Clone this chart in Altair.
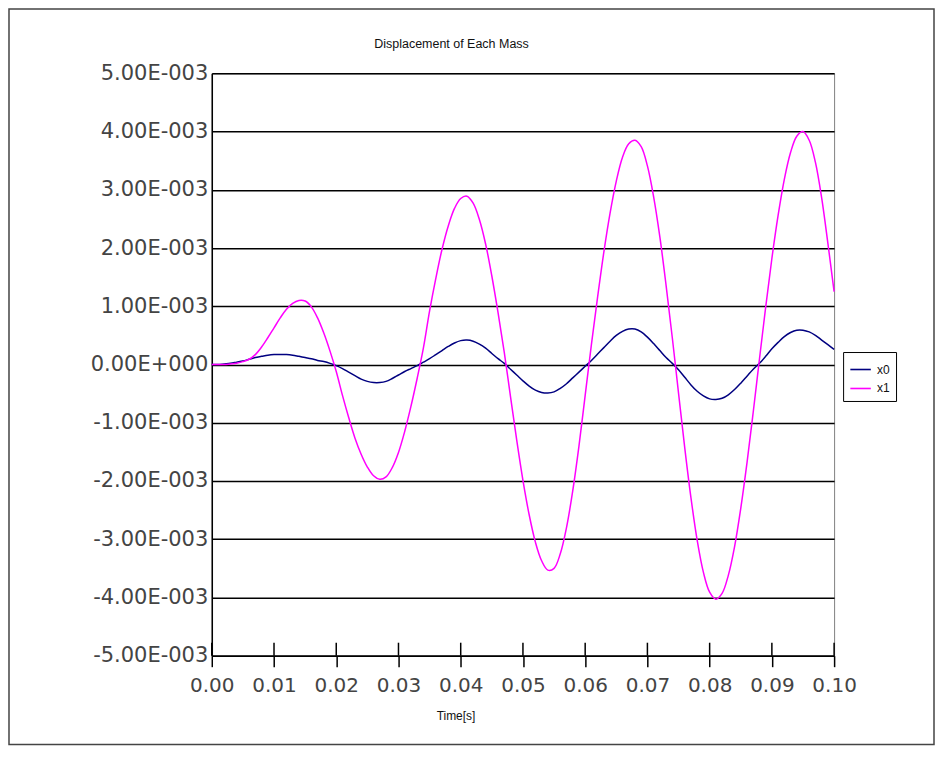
import altair as alt
import pandas as pd

# time samples [s]
time_s = [round(i * 0.001, 3) for i in range(101)]

# displacement of mass x0, in units of 1E-003
x0 = [0.00, 0.00, 0.01, 0.02, 0.04, 0.06, 0.09, 0.12, 0.14, 0.16,
      0.17, 0.17, 0.17, 0.16, 0.14, 0.12, 0.10, 0.07, 0.05, 0.02,
      -0.02, -0.07, -0.13, -0.19, -0.25, -0.29, -0.31, -0.31, -0.29, -0.24,
      -0.18, -0.12, -0.07, -0.02, 0.04, 0.10, 0.17, 0.24, 0.31, 0.37,
      0.41, 0.42, 0.40, 0.35, 0.28, 0.19, 0.10, 0.02, -0.08, -0.18,
      -0.28, -0.37, -0.44, -0.48, -0.49, -0.47, -0.41, -0.33, -0.23, -0.13,
      -0.03, 0.07, 0.18, 0.29, 0.40, 0.50, 0.57, 0.61, 0.61, 0.56,
      0.47, 0.36, 0.24, 0.12, 0.02, -0.09, -0.22, -0.35, -0.46, -0.54,
      -0.59, -0.60, -0.58, -0.52, -0.43, -0.32, -0.20, -0.08, 0.02, 0.14,
      0.27, 0.38, 0.48, 0.55, 0.59, 0.59, 0.56, 0.50, 0.42, 0.34,
      0.26]

# displacement of mass x1, in units of 1E-003
x1 = [0.00, 0.00, 0.00, 0.01, 0.02, 0.05, 0.09, 0.17, 0.30, 0.46,
      0.63, 0.80, 0.95, 1.05, 1.10, 1.09, 0.99, 0.80, 0.54, 0.23,
      -0.12, -0.53, -0.91, -1.26, -1.54, -1.76, -1.91, -1.97, -1.93, -1.77,
      -1.51, -1.15, -0.72, -0.24, 0.28, 0.92, 1.48, 1.98, 2.38, 2.68,
      2.85, 2.89, 2.77, 2.49, 2.07, 1.52, 0.89, 0.21, -0.55, -1.30,
      -1.99, -2.58, -3.05, -3.37, -3.53, -3.50, -3.25, -2.80, -2.17, -1.40,
      -0.53, 0.34, 1.16, 1.93, 2.60, 3.15, 3.56, 3.79, 3.85, 3.74,
      3.41, 2.88, 2.19, 1.36, 0.46, -0.49, -1.43, -2.29, -3.02, -3.57,
      -3.91, -4.03, -3.93, -3.62, -3.13, -2.47, -1.69, -0.82, 0.09, 0.98,
      1.82, 2.56, 3.18, 3.64, 3.92, 4.00, 3.85, 3.47, 2.86, 2.08,
      1.25]

series_names = ["x0", "x1"]
series_colors = ["#000080", "#FF00FF"]
x_ticks = [0.0, 0.01, 0.02, 0.03, 0.04, 0.05, 0.06, 0.07, 0.08, 0.09, 0.1]
y_ticks = [-0.005, -0.004, -0.003, -0.002, -0.001, 0.0, 0.001, 0.002, 0.003, 0.004, 0.005]
title_text = "Displacement of Each Mass"
x_title = "Time[s]"

W, H = 623, 583
LABEL_FONT = "DejaVu Sans"

df = pd.DataFrame({
    "t": time_s + time_s,
    "v": [v * 1e-3 for v in x0] + [v * 1e-3 for v in x1],
    "s": [series_names[0]] * len(x0) + [series_names[1]] * len(x1),
})
tick_df = pd.DataFrame({"t": x_ticks})
one = pd.DataFrame({"a": [0]})

xs = alt.Scale(domain=[0, 0.1], nice=False, zero=False)
ys = alt.Scale(domain=[-0.005, 0.005], nice=False)

y_label_expr = ("abs(datum.value) < 1e-12 ? '0.00E+000' : "
                "(datum.value < 0 ? '-' : '') + format(abs(datum.value) * 1000, '.2f') + 'E-003'")

lines = alt.Chart(df).mark_line(strokeWidth=1.5, interpolate="catmull-rom").encode(
    x=alt.X("t:Q", scale=xs, axis=alt.Axis(
        values=x_ticks, format=".2f", title=x_title,
        tickSize=11, tickWidth=1.5, tickColor="black",
        domainColor="black", domainWidth=1.5,
        labelFont=LABEL_FONT, labelFontSize=20, labelColor="#444444",
        labelPadding=9, labelFlush=False, labelOverlap=False,
        titleFont="Liberation Sans", titleFontSize=12, titleFontWeight="normal",
        titleColor="#111111", titleX=244, titleY=60, titleBaseline="middle",
        grid=False)),
    y=alt.Y("v:Q", scale=ys, axis=alt.Axis(
        values=y_ticks, labelExpr=y_label_expr, title=None,
        ticks=False, domainColor="black", domainWidth=1.5,
        labelFont=LABEL_FONT, labelFontSize=21, labelColor="#444444",
        labelPadding=4, labelFlush=False, labelOverlap=False,
        grid=True, gridColor="black", gridWidth=1.5)),
    color=alt.Color("s:N", scale=alt.Scale(domain=series_names, range=series_colors),
                    legend=alt.Legend(
                        title=None, orient="none", legendX=632, legendY=279,
                        strokeColor="black", padding=6, fillColor="white",
                        symbolType="stroke", symbolSize=420, symbolStrokeWidth=1.6,
                        labelFont="Liberation Sans", labelFontSize=12, labelColor="#111111",
                        rowPadding=1, labelOffset=5)),
)

inner_ticks = alt.Chart(tick_df).mark_rule(color="black", strokeWidth=1.5).encode(
    x=alt.X("t:Q", scale=xs),
    y=alt.value(H - 13),
    y2=alt.value(H),
)

frame = alt.Chart(one).mark_rect(fillOpacity=0, stroke="#444444", strokeWidth=1.5, clip=False).encode(
    x=alt.value(-203), x2=alt.value(723), y=alt.value(-64.5), y2=alt.value(672),
)

title = alt.Chart(one).mark_text(
    text=title_text, font="Liberation Sans", fontSize=12.5, color="#111111",
    align="center", baseline="middle").encode(
    x=alt.value(240), y=alt.value(-29),
)

chart = alt.layer(frame, inner_ticks, lines, title).properties(
    width=W, height=H,
    padding={"left": 204, "top": 65, "right": 101, "bottom": 91},
    autosize=alt.AutoSizeParams(type="none"),
).configure_view(stroke="#808080", strokeWidth=1)

chart.save("out.html", embed_options={"renderer": "svg", "actions": False})
